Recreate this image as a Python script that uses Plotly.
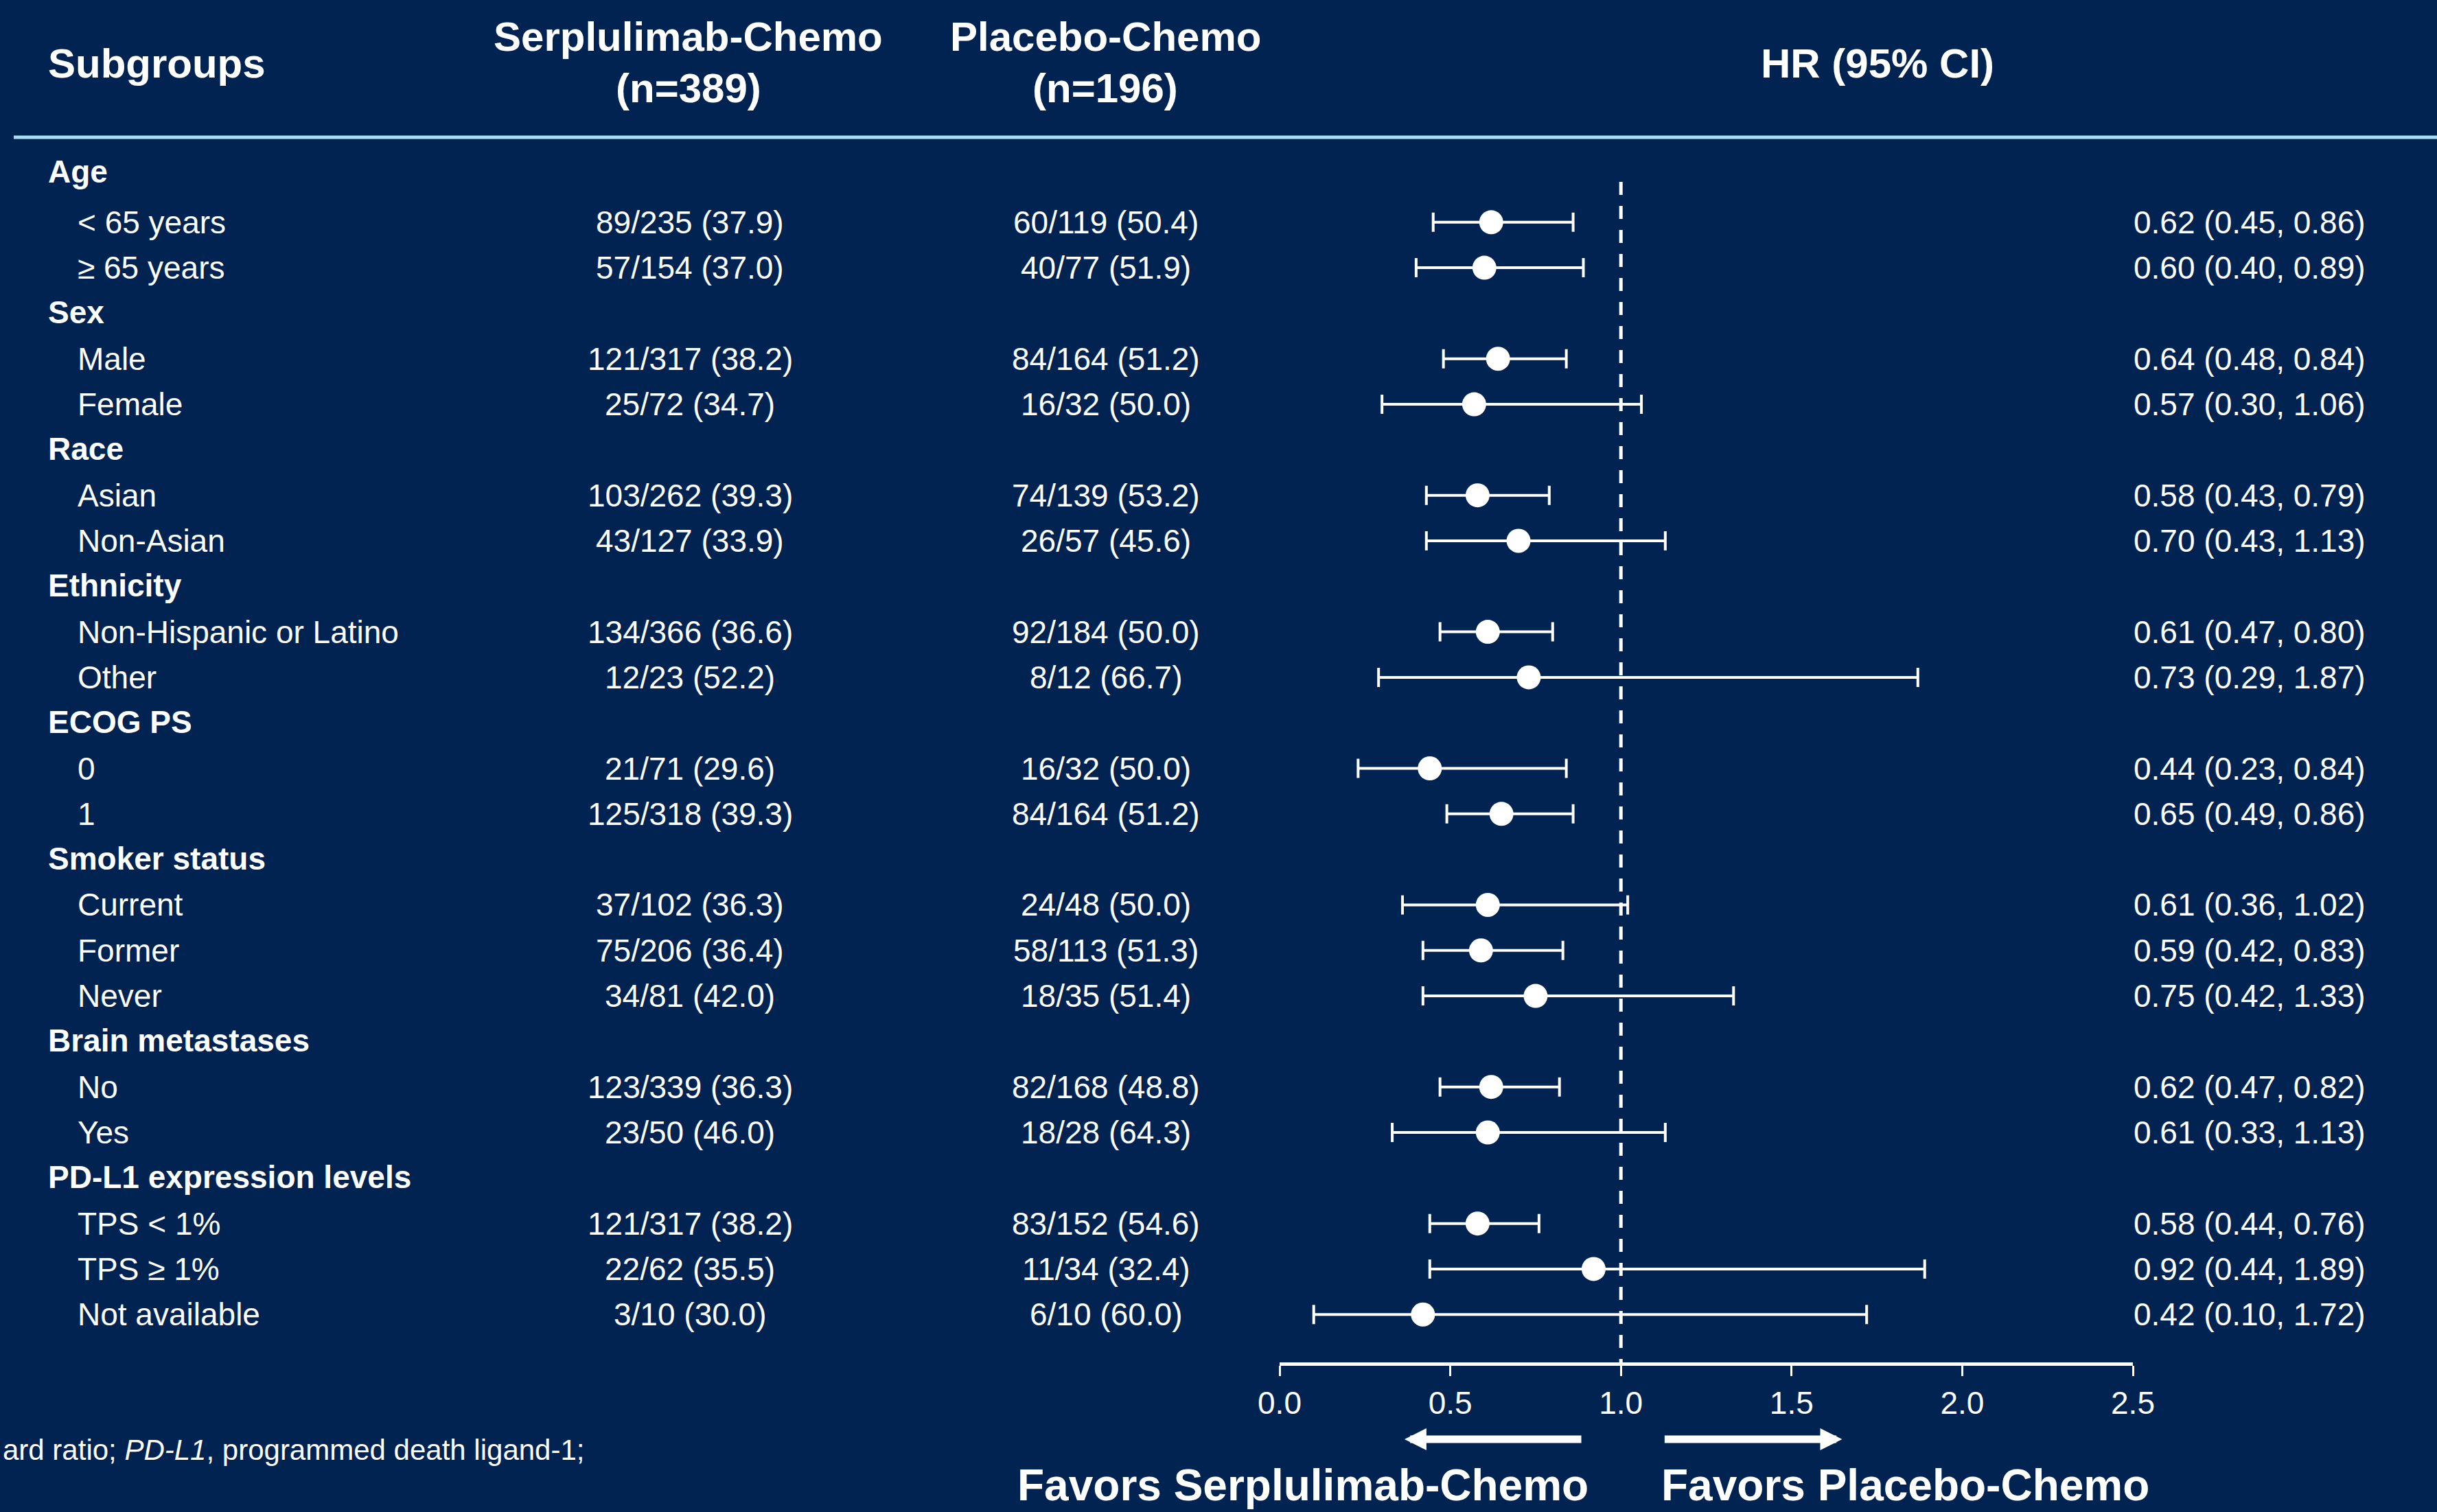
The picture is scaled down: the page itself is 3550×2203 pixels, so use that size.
import plotly.graph_objects as go

W, H = 3550, 2203
BG = "#002352"
FONT = "Arial, Liberation Sans, sans-serif"

# ---------------- data ----------------
row_labels = [
    "Age", "&lt; 65 years", "≥ 65 years",
    "Sex", "Male", "Female",
    "Race", "Asian", "Non-Asian",
    "Ethnicity", "Non-Hispanic or Latino", "Other",
    "ECOG PS", "0", "1",
    "Smoker status", "Current", "Former", "Never",
    "Brain metastases", "No", "Yes",
    "PD-L1 expression levels", "TPS &lt; 1%", "TPS ≥ 1%", "Not available",
]
row_is_header = [
    True, False, False,
    True, False, False,
    True, False, False,
    True, False, False,
    True, False, False,
    True, False, False, False,
    True, False, False,
    True, False, False, False,
]
serp_events = [
    "", "89/235 (37.9)", "57/154 (37.0)",
    "", "121/317 (38.2)", "25/72 (34.7)",
    "", "103/262 (39.3)", "43/127 (33.9)",
    "", "134/366 (36.6)", "12/23 (52.2)",
    "", "21/71 (29.6)", "125/318 (39.3)",
    "", "37/102 (36.3)", "75/206 (36.4)", "34/81 (42.0)",
    "", "123/339 (36.3)", "23/50 (46.0)",
    "", "121/317 (38.2)", "22/62 (35.5)", "3/10 (30.0)",
]
placebo_events = [
    "", "60/119 (50.4)", "40/77 (51.9)",
    "", "84/164 (51.2)", "16/32 (50.0)",
    "", "74/139 (53.2)", "26/57 (45.6)",
    "", "92/184 (50.0)", "8/12 (66.7)",
    "", "16/32 (50.0)", "84/164 (51.2)",
    "", "24/48 (50.0)", "58/113 (51.3)", "18/35 (51.4)",
    "", "82/168 (48.8)", "18/28 (64.3)",
    "", "83/152 (54.6)", "11/34 (32.4)", "6/10 (60.0)",
]
hr = [
    None, 0.62, 0.60,
    None, 0.64, 0.57,
    None, 0.58, 0.70,
    None, 0.61, 0.73,
    None, 0.44, 0.65,
    None, 0.61, 0.59, 0.75,
    None, 0.62, 0.61,
    None, 0.58, 0.92, 0.42,
]
ci_low = [
    None, 0.45, 0.40,
    None, 0.48, 0.30,
    None, 0.43, 0.43,
    None, 0.47, 0.29,
    None, 0.23, 0.49,
    None, 0.36, 0.42, 0.42,
    None, 0.47, 0.33,
    None, 0.44, 0.44, 0.10,
]
ci_high = [
    None, 0.86, 0.89,
    None, 0.84, 1.06,
    None, 0.79, 1.13,
    None, 0.80, 1.87,
    None, 0.84, 0.86,
    None, 1.02, 0.83, 1.33,
    None, 0.82, 1.13,
    None, 0.76, 1.89, 1.72,
]
x_ticks = [0.0, 0.5, 1.0, 1.5, 2.0, 2.5]
header_subgroups = "Subgroups"
header_serp = ["Serplulimab-Chemo", "(n=389)"]
header_placebo = ["Placebo-Chemo", "(n=196)"]
header_hr = "HR (95% CI)"
favors_left = "Favors Serplulimab-Chemo"
favors_right = "Favors Placebo-Chemo"
footnote = "ard ratio; <i>PD-L1</i>, programmed death ligand-1;"

# ---------------- layout geometry (pixels) ----------------
ROW0_PX, ROW_STEP = 257.5, 66.31
AXIS_PX = 1985.0
X0_PX, X1_PX = 1864.0, 3107.0
y_top = -ROW0_PX / ROW_STEP
y_bot = (AXIS_PX - ROW0_PX) / ROW_STEP

def py(px):  # pixel from top -> paper y
    return 1 - px / H

def pxx(px):  # pixel from left -> paper x
    return px / W

n = len(row_labels)
rows = list(range(n))

# ---------------- traces ----------------
idx = [i for i in rows if hr[i] is not None]
fig = go.Figure()
fig.add_trace(go.Scatter(
    x=[hr[i] for i in idx],
    y=[rows[i] for i in idx],
    mode="markers",
    marker=dict(color="white", size=35, line=dict(width=0)),
    error_x=dict(
        type="data", symmetric=False,
        array=[ci_high[i] - hr[i] for i in idx],
        arrayminus=[hr[i] - ci_low[i] for i in idx],
        color="white", thickness=4, width=14,
    ),
    showlegend=False, hoverinfo="skip",
))

RF = dict(family=FONT, size=46, color="white")
ann = []
for i in rows:
    if row_is_header[i]:
        ann.append(dict(x=pxx(68), y=rows[i], xref="paper", yref="y", text=f"<b>{row_labels[i]}</b>",
                        xanchor="left", yanchor="middle", showarrow=False, font=RF,
                        yshift=8 if i == 0 else 1))
    else:
        ann.append(dict(x=pxx(111), y=rows[i], xref="paper", yref="y", text=row_labels[i],
                        xanchor="left", yanchor="middle", showarrow=False, font=RF))
        ann.append(dict(x=pxx(1005), y=rows[i], xref="paper", yref="y", text=serp_events[i],
                        xanchor="center", yanchor="middle", showarrow=False, font=RF))
        ann.append(dict(x=pxx(1611), y=rows[i], xref="paper", yref="y", text=placebo_events[i],
                        xanchor="center", yanchor="middle", showarrow=False, font=RF))
        ann.append(dict(x=pxx(3448), y=rows[i], xref="paper", yref="y",
                        text=f"{hr[i]:.2f} ({ci_low[i]:.2f}, {ci_high[i]:.2f})",
                        xanchor="right", yanchor="middle", showarrow=False, font=RF))

hfont = dict(family=FONT, size=60, color="white")
ffont = dict(family=FONT, size=64, color="white")
ann += [
    dict(x=pxx(68), y=py(93), xref="paper", yref="paper", text=f"<b>{header_subgroups}</b>",
         xanchor="left", yanchor="middle", showarrow=False, font=hfont),
    dict(x=pxx(1003), y=py(54), xref="paper", yref="paper", text=f"<b>{header_serp[0]}</b>",
         xanchor="center", yanchor="middle", showarrow=False, font=hfont),
    dict(x=pxx(1003), y=py(129), xref="paper", yref="paper", text=f"<b>{header_serp[1]}</b>",
         xanchor="center", yanchor="middle", showarrow=False, font=hfont),
    dict(x=pxx(1610), y=py(54), xref="paper", yref="paper", text=f"<b>{header_placebo[0]}</b>",
         xanchor="center", yanchor="middle", showarrow=False, font=hfont),
    dict(x=pxx(1610), y=py(129), xref="paper", yref="paper", text=f"<b>{header_placebo[1]}</b>",
         xanchor="center", yanchor="middle", showarrow=False, font=hfont),
    dict(x=pxx(2735), y=py(93), xref="paper", yref="paper", text=f"<b>{header_hr}</b>",
         xanchor="center", yanchor="middle", showarrow=False, font=hfont),
    dict(x=pxx(2316), y=py(2202), xref="paper", yref="paper", text=f"<b>{favors_left}</b>",
         xanchor="right", yanchor="bottom", showarrow=False, font=ffont),
    dict(x=pxx(2418), y=py(2202), xref="paper", yref="paper", text=f"<b>{favors_right}</b>",
         xanchor="left", yanchor="bottom", showarrow=False, font=ffont),
    dict(x=pxx(2), y=py(2112), xref="paper", yref="paper", text=footnote,
         xanchor="left", yanchor="middle", showarrow=False,
         font=dict(family=FONT, size=42, color="white")),
]
# direction arrows (in HR axis units)
ann += [
    dict(x=0.366, y=py(2097), xref="x", yref="paper", ax=0.887, ay=0, axref="x", ayref="pixel",
         text="", showarrow=True, arrowhead=2, arrowsize=0.58, arrowwidth=11, arrowcolor="white"),
    dict(x=1.648, y=py(2097), xref="x", yref="paper", ax=1.125, ay=0, axref="x", ayref="pixel",
         text="", showarrow=True, arrowhead=2, arrowsize=0.58, arrowwidth=11, arrowcolor="white"),
]

shapes = [
    dict(type="line", xref="paper", yref="paper", x0=pxx(20), x1=1, y0=py(200), y1=py(200),
         line=dict(color="#A6DDF0", width=5)),
    dict(type="line", xref="x", yref="y", x0=1.0, x1=1.0, y0=(265 - ROW0_PX) / ROW_STEP, y1=y_bot,
         line=dict(color="white", width=5, dash="19px,16px")),
]

fig.update_layout(
    width=W, height=H, autosize=False,
    margin=dict(l=0, r=0, t=0, b=0, pad=0, autoexpand=False),
    paper_bgcolor=BG, plot_bgcolor=BG,
    annotations=ann, shapes=shapes,
    xaxis=dict(
        domain=[pxx(X0_PX), pxx(X1_PX)], range=[0, 2.5],
        tickvals=x_ticks, ticktext=[f"{t:.1f}" for t in x_ticks],
        showline=True, linecolor="white", linewidth=5,
        ticks="outside", ticklen=15, tickwidth=3, tickcolor="white",
        tickfont=dict(family=FONT, size=46, color="white"),
        showgrid=False, zeroline=False, fixedrange=True, automargin=False,
    ),
    yaxis=dict(
        domain=[1 - AXIS_PX / H, 1], range=[y_bot, y_top],
        visible=False, showgrid=False, zeroline=False, fixedrange=True, automargin=False,
    ),
)

fig.write_html(
    "out.html",
    config={"responsive": False, "displayModeBar": False},
    post_script="document.body.style.margin='0';document.body.style.overflow='hidden';"
                "document.body.style.background='" + BG + "';",
)
